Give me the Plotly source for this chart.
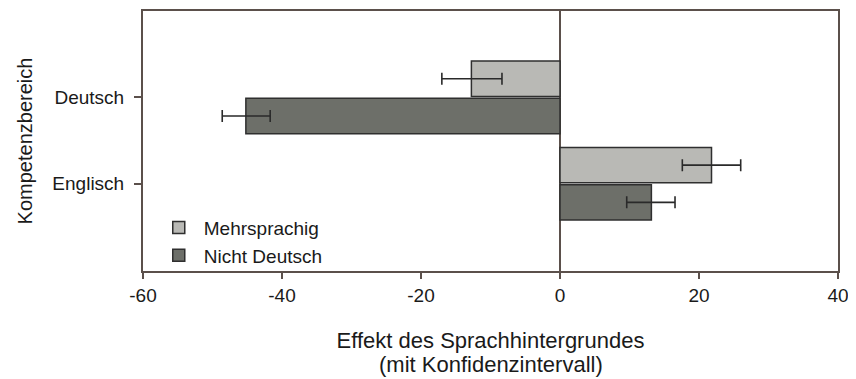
import plotly.graph_objects as go

categories = ["Deutsch", "Englisch"]
cat_pos = [0, 1]
series_names = ["Mehrsprachig", "Nicht Deutsch"]
mehrsprachig = [-12.75, 21.8]
mehrsprachig_lo = [-17.0, 17.6]
mehrsprachig_hi = [-8.35, 26.0]
nicht_deutsch = [-45.2, 13.15]
nicht_deutsch_lo = [-48.6, 9.6]
nicht_deutsch_hi = [-41.7, 16.55]
x_ticks = [-60, -40, -20, 0, 20, 40]
x_title_1 = "Effekt des Sprachhintergrundes"
x_title_2 = "(mit Konfidenzintervall)"
y_title = "Kompetenzbereich"

colors = ["#b9b9b5", "#6d6f69"]
edge = "#2f2f2f"
axis_col = "#5b504b"
font_family = "Liberation Sans, Arial, sans-serif"

fig = go.Figure()
for name, vals, lo, hi, col in [
    (series_names[0], mehrsprachig, mehrsprachig_lo, mehrsprachig_hi, colors[0]),
    (series_names[1], nicht_deutsch, nicht_deutsch_lo, nicht_deutsch_hi, colors[1]),
]:
    fig.add_trace(go.Bar(
        name=name,
        y=cat_pos,
        x=vals,
        orientation="h",
        marker=dict(color=col, line=dict(color=edge, width=1.5)),
        error_x=dict(
            type="data",
            symmetric=False,
            array=[h - v for h, v in zip(hi, vals)],
            arrayminus=[v - l for v, l in zip(vals, lo)],
            color="#2a2a2a",
            thickness=1.6,
            width=6,
        ),
    ))

# page body has an 8px default margin; figure offset accordingly
fig.update_layout(
    width=848,
    height=371,
    margin=dict(l=135, r=18, t=1, b=108),
    plot_bgcolor="white",
    paper_bgcolor="white",
    barmode="group",
    bargap=0.138,
    bargroupgap=0.05,
    font=dict(family=font_family, size=19, color="#1a1a1a"),
    legend=dict(
        x=0.0155, y=-0.014, xanchor="left", yanchor="bottom",
        bgcolor="rgba(255,255,255,0)",
        font=dict(size=19),
        tracegroupgap=0,
        itemwidth=40,
    ),
    xaxis=dict(
        range=[-60, 40],
        tickvals=x_ticks,
        ticktext=[str(t) for t in x_ticks],
        ticks="outside",
        ticklen=6,
        tickwidth=1.5,
        tickcolor=axis_col,
        showline=True,
        linecolor=axis_col,
        linewidth=2,
        mirror=True,
        showgrid=False,
        zeroline=True,
        zerolinecolor=axis_col,
        zerolinewidth=1.5,
        tickfont=dict(size=19),
        title=dict(
            text=x_title_1,
            font=dict(size=22),
            standoff=28,
        ),
    ),
    yaxis=dict(
        range=[2.01, -1],
        tickvals=cat_pos,
        ticktext=categories,
        ticks="outside",
        ticklen=7,
        tickwidth=1.5,
        tickcolor=axis_col,
        ticklabelstandoff=6,
        showline=True,
        linecolor=axis_col,
        linewidth=2,
        mirror=True,
        showgrid=False,
        zeroline=False,
        tickfont=dict(size=19),
        title=dict(text=y_title, font=dict(size=20), standoff=14),
    ),
    annotations=[dict(
        text=x_title_2,
        xref="paper", yref="paper",
        x=0.5, y=-0.359,
        xanchor="center", yanchor="middle",
        showarrow=False,
        font=dict(size=22, family=font_family, color="#1a1a1a"),
    )],
)

fig.write_html("out.html")
